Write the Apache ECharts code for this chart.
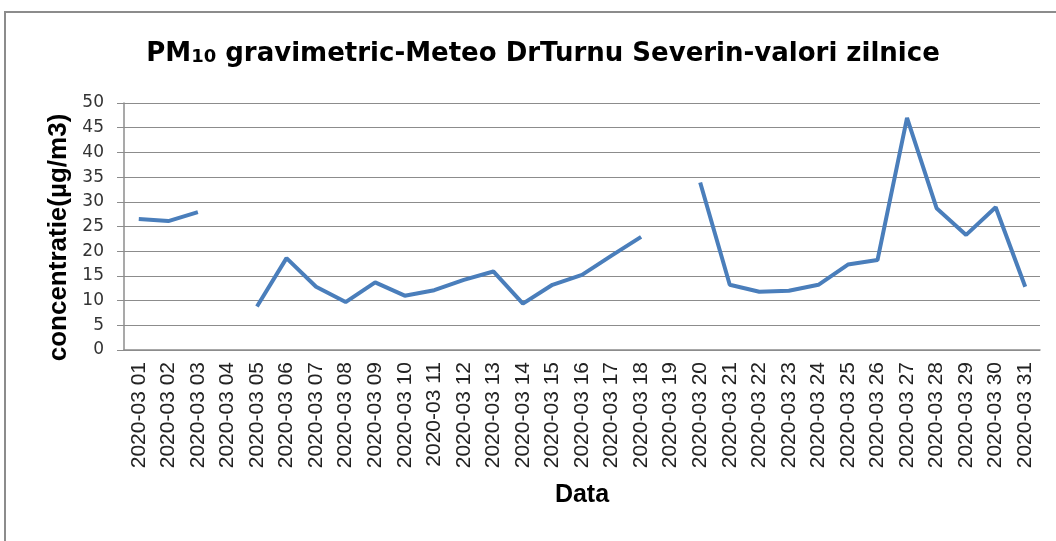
<!DOCTYPE html>
<html>
<head>
<meta charset="utf-8">
<script src="https://cdn.jsdelivr.net/npm/echarts@6/dist/echarts.min.js"></script>
<style>
  html, body { margin: 0; padding: 0; background: #fff; }
  #chart { width: 1056px; height: 541px; }
</style>
</head>
<body>
<div id="chart"></div>
<script>
// zilele lunii martie 2020
var days = ["2020-03 01", "2020-03 02", "2020-03 03", "2020-03 04", "2020-03 05", "2020-03 06",
  "2020-03 07", "2020-03 08", "2020-03 09", "2020-03 10", "2020-03 11", "2020-03 12",
  "2020-03 13", "2020-03 14", "2020-03 15", "2020-03 16", "2020-03 17", "2020-03 18",
  "2020-03 19", "2020-03 20", "2020-03 21", "2020-03 22", "2020-03 23", "2020-03 24",
  "2020-03 25", "2020-03 26", "2020-03 27", "2020-03 28", "2020-03 29", "2020-03 30",
  "2020-03 31"];
// PM10 valori zilnice (null = lipsa date)
var pm10 = [26.5, 26.1, 27.9, null, 8.8, 18.6, 12.8, 9.7, 13.7, 11.0, 12.1, 14.2, 15.9, 9.4,
  13.2, 15.2, 19.1, 22.9, null, 33.9, 13.2, 11.8, 12.0, 13.2, 17.3, 18.2, 47.0, 28.7,
  23.3, 28.9, 12.8];
var yTicks = [0, 50, 5];

var chart = echarts.init(document.getElementById("chart"));
chart.setOption({
  animation: false,
  textStyle: { fontFamily: "Liberation Sans, Arial, sans-serif" },
  graphic: [
    {
      type: "rect",
      shape: { x: 5, y: 12, width: 1200, height: 700 },
      style: { fill: "none", stroke: "#8c8c8c", lineWidth: 2 }
    }
  ],
  title: {
    text: "{a|PM}{b|10}{a| gravimetric-Meteo DrTurnu Severin-valori zilnice}",
    left: 538,
    top: 36,
    textAlign: "center",
    textStyle: {
      rich: {
        a: { fontSize: 26, fontWeight: "bold", color: "#000", fontFamily: "DejaVu Sans" },
        b: { fontSize: 18, fontWeight: "bold", color: "#000", fontFamily: "DejaVu Sans", padding: [6, 0, 0, 0] }
      }
    }
  },
  grid: { left: 124, right: 16, top: 103, bottom: 191 },
  xAxis: {
    type: "category",
    data: days,
    name: "Data",
    nameLocation: "middle",
    nameGap: 133,
    nameTextStyle: { fontSize: 25, fontWeight: "bold", color: "#000" },
    axisLine: { lineStyle: { color: "#8c8c8c", width: 1.5 } },
    axisTick: { show: false },
    axisLabel: { rotate: 90, interval: 0, fontSize: 21, color: "#222", margin: 12 }
  },
  yAxis: {
    type: "value",
    min: yTicks[0],
    max: yTicks[1],
    interval: yTicks[2],
    name: "concentratie(µg/m3)",
    nameLocation: "middle",
    nameGap: 50,
    nameTextStyle: { fontSize: 26, fontWeight: "bold", color: "#000", padding: [0, 22, 0, 0] },
    axisLine: { show: true, lineStyle: { color: "#8c8c8c", width: 1.5 } },
    axisTick: { show: true, length: 7, lineStyle: { color: "#8c8c8c" } },
    axisLabel: { fontSize: 17, color: "#333", margin: 20, fontFamily: "DejaVu Sans" },
    splitLine: { lineStyle: { color: "#8c8c8c", width: 1.2 } }
  },
  series: [
    {
      type: "line",
      data: pm10,
      symbol: "none",
      connectNulls: false,
      lineStyle: { color: "#4a7ebb", width: 4 }
    }
  ]
});
</script>
</body>
</html>
